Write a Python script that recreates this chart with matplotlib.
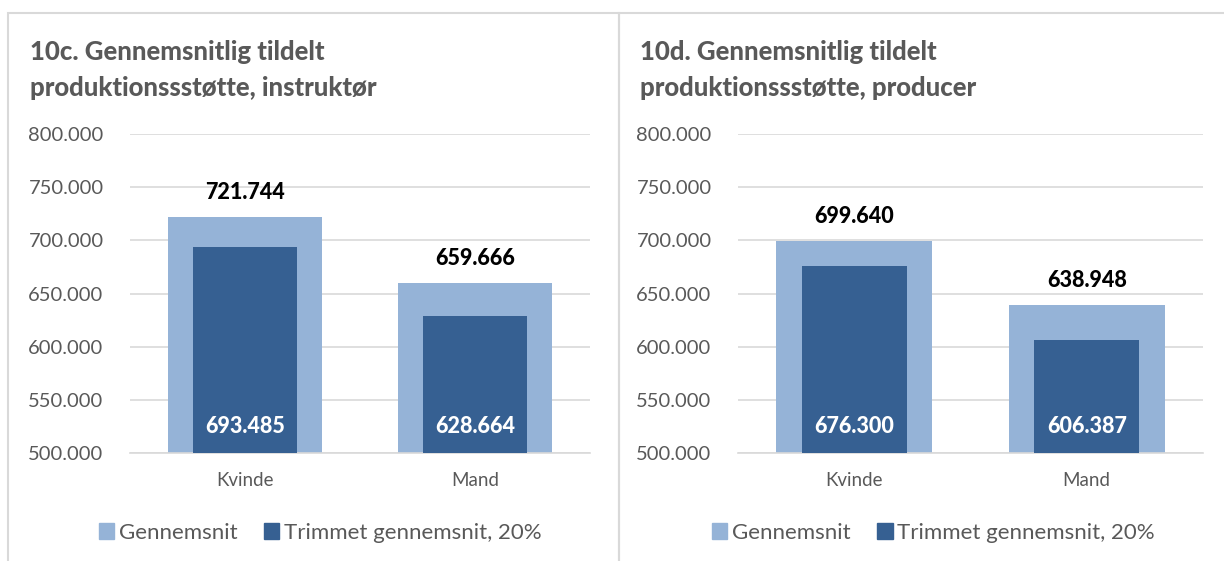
import matplotlib
matplotlib.use("Agg")
import matplotlib.pyplot as plt
from matplotlib.patches import Patch, Rectangle
from matplotlib.ticker import FuncFormatter
import numpy as np

plt.rcParams['font.family'] = ['Lato', 'DejaVu Sans']

categories = ['Kvinde', 'Mand']
titles = ['10c. Gennemsnitlig tildelt\nproduktionssstøtte, instruktør',
          '10d. Gennemsnitlig tildelt\nproduktionssstøtte, producer']
mean_vals = [[721744, 659666], [699640, 638948]]
trim_vals = [[693485, 628664], [676300, 606387]]
series_names = ['Gennemsnit', 'Trimmet gennemsnit, 20%']
yticks = [500000, 550000, 600000, 650000, 700000, 750000, 800000]

LIGHT = '#95B3D7'
DARK = '#366092'
GREY = '#595959'
GRID = '#D9D9D9'

W, H = 1224, 561
fig = plt.figure(figsize=(W / 100, H / 100), dpi=100)


def fx(px):
    return px / W


def fy(py):
    return 1 - py / H


def thousands(v, pos=None):
    return f'{int(round(v)):,}'.replace(',', '.')


# panel frames
for x0, x1 in [(8, 619), (619, 1230)]:
    fig.add_artist(Rectangle((fx(x0), fy(570)), fx(x1 - x0), (570 - 13) / H,
                             transform=fig.transFigure, fill=False,
                             edgecolor='#D9D9D9', linewidth=1.5))

panels = [(130, 590, 30, 0.413), (738, 1203, 640, 0.42)]
for i, (ax_l, ax_r, tx, leg_x) in enumerate(panels):
    ax = fig.add_axes([fx(ax_l), fy(453), fx(ax_r - ax_l), (453 - 134) / H])
    x = np.arange(len(categories))
    ax.bar(x, mean_vals[i], width=0.67, color=LIGHT, zorder=2)
    ax.bar(x, trim_vals[i], width=0.45, color=DARK, zorder=3)
    ax.set_ylim(500000, 800000)
    ax.set_xlim(-0.5, 1.5)
    ax.set_yticks(yticks)
    ax.yaxis.set_major_formatter(FuncFormatter(thousands))
    ax.set_xticks(x)
    ax.set_xticklabels(categories, fontsize=13.5, color=GREY)
    ax.tick_params(axis='y', labelsize=14.5, labelcolor=GREY, length=0, pad=19)
    ax.tick_params(axis='x', length=0, pad=14)
    ax.grid(axis='y', color=GRID, linewidth=1.2, zorder=0)
    for s in ['top', 'right', 'left']:
        ax.spines[s].set_visible(False)
    ax.spines['bottom'].set_color(GRID)
    ax.spines['bottom'].set_linewidth(1.2)
    ax.set_axisbelow(True)

    for xi, mv, tv in zip(x, mean_vals[i], trim_vals[i]):
        ax.annotate(thousands(mv), (xi, mv), xytext=(0, 10), textcoords='offset points',
                    ha='center', va='bottom', fontsize=15.5, fontweight=900, color='black')
        ax.text(xi, 525000, thousands(tv), ha='center', va='center',
                fontsize=15.5, fontweight=900, color='white', zorder=4)

    fig.text(fx(tx), fy(40), titles[i], ha='left', va='top', fontsize=18.5,
             fontweight=900, color=GREY, linespacing=1.6)

    handles = [Patch(color=LIGHT), Patch(color=DARK)]
    ax.legend(handles, series_names, loc='center', ncol=2,
              bbox_to_anchor=(leg_x, -0.25), frameon=False, fontsize=16,
              handlelength=0.7, handleheight=0.7, handletextpad=0.2,
              columnspacing=1.2, labelcolor=GREY)

fig.savefig('out.png', dpi=100)
